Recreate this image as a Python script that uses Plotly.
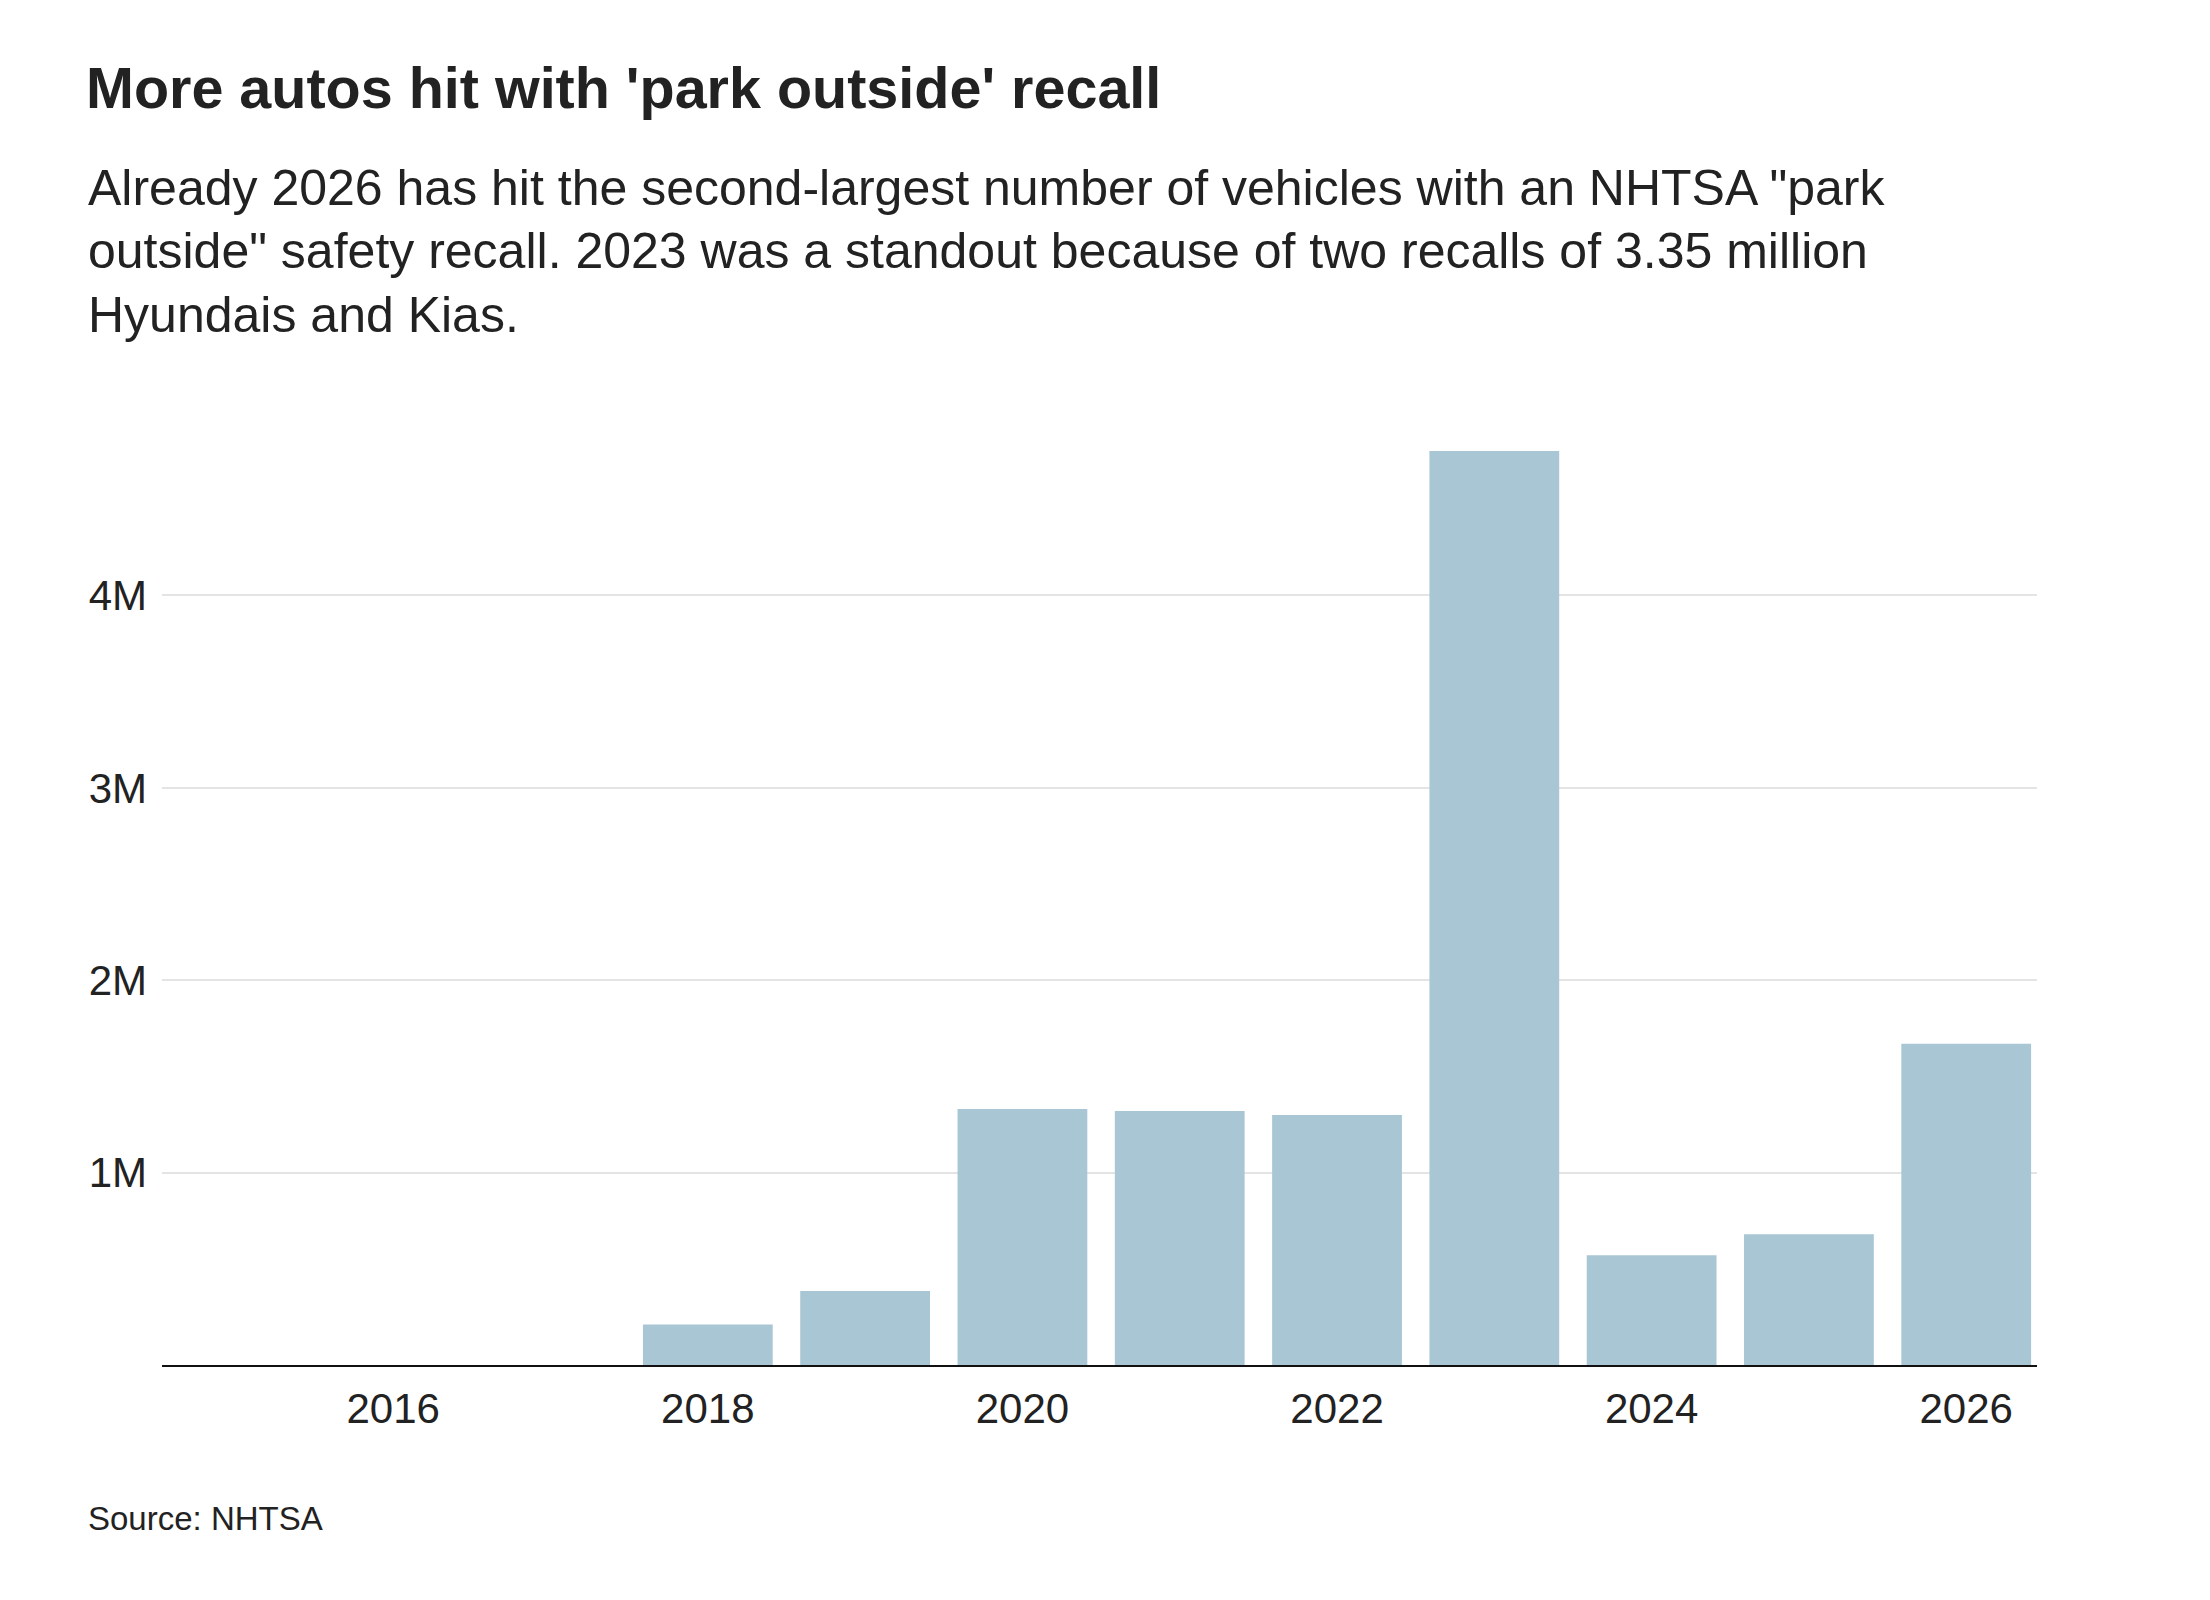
import plotly.graph_objects as go

years = [2015, 2016, 2017, 2018, 2019, 2020, 2021, 2022, 2023, 2024, 2025, 2026]
vehicles = [0, 0, 0, 210000, 385000, 1330000, 1320000, 1300000, 4750000, 570000, 680000, 1670000]

y_ticks = [1000000, 2000000, 3000000, 4000000]
y_labels = ["1M", "2M", "3M", "4M"]
x_ticks = [2016, 2018, 2020, 2022, 2024, 2026]

title = "More autos hit with 'park outside' recall"
subtitle = [
    'Already 2026 has hit the second-largest number of vehicles with an NHTSA "park',
    'outside" safety recall. 2023 was a standout because of two recalls of 3.35 million',
    "Hyundais and Kias.",
]
source = "Source: NHTSA"

sans = "Liberation Sans, Arial, sans-serif"
ink = "#222222"

fig = go.Figure(go.Bar(x=years, y=vehicles, marker_color="#a8c6d4",
                       marker_line_width=0, hoverinfo="x+y"))

fig.update_layout(
    width=2210, height=1600,
    margin=dict(l=154, r=181, t=395, b=243),
    paper_bgcolor="white", plot_bgcolor="white",
    bargap=0.175, showlegend=False,
    title=dict(text="<b>" + title + "</b>", x=78 / 2210, xanchor="left",
               y=1 - 80 / 1600, yanchor="middle",
               font=dict(family=sans, size=57.5, color=ink)),
    font=dict(family=sans, color=ink),
)

# subtitle, one annotation per line
for i, line in enumerate(subtitle):
    fig.add_annotation(text=line, xref="paper", yref="paper", x=-0.0405,
                       y=1.2234 - i * 0.0659, xanchor="left", yanchor="middle",
                       showarrow=False, font=dict(family=sans, size=50, color=ink))

fig.add_annotation(text=source, xref="paper", yref="paper", x=-0.0405, y=-0.1596,
                   xanchor="left", yanchor="middle", showarrow=False,
                   font=dict(family=sans, size=33, color=ink))

fig.update_xaxes(range=[2014.53, 2026.45], tickvals=x_ticks, showgrid=False,
                 showline=True, linecolor="#111111", linewidth=2, ticks="",
                 ticklabelstandoff=6, tickfont=dict(size=42, color=ink))
fig.update_yaxes(range=[0, 5000000], tickvals=y_ticks, ticktext=y_labels,
                 showgrid=True, gridcolor="#e4e4e4", gridwidth=2, zeroline=False,
                 ticks="", ticklabelstandoff=14, tickfont=dict(size=42, color=ink))

fig.write_html("out.html")
